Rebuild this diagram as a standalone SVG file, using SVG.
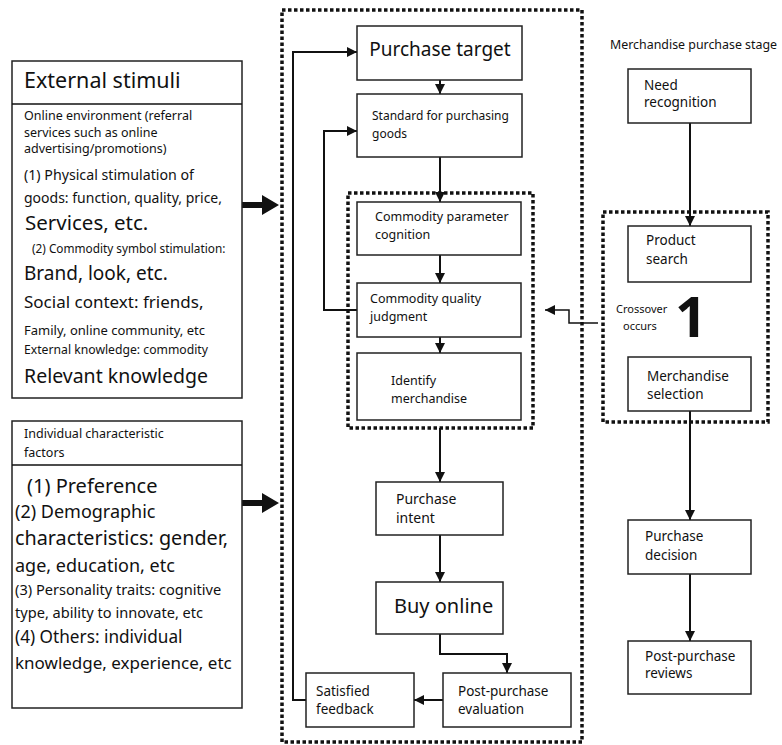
<svg xmlns="http://www.w3.org/2000/svg" width="782" height="745" viewBox="0 0 782 745">
<defs>
<marker id="ah" viewBox="0 0 10 10" refX="10" refY="5" markerWidth="10" markerHeight="10" markerUnits="userSpaceOnUse" orient="auto">
<path d="M0,0 L10,5 L0,10 z" fill="#111"/>
</marker>
</defs>
<style>
text{font-family:"Noto Sans","Open Sans","DejaVu Sans",sans-serif;fill:#111}
.box{fill:#fff;stroke:#222;stroke-width:1.5}
.dot{fill:none;stroke:#111;stroke-width:3.5;stroke-dasharray:3.5 2.5}
.ln{fill:none;stroke:#111;stroke-width:2}
.thin{fill:none;stroke:#111;stroke-width:1.5}
.s12{font-size:12.5px}
.s13{font-size:13.5px}
.s14{font-size:14px}
.big{font-size:20px}
</style>
<rect width="782" height="745" fill="#fff"/>

<!-- containers -->
<rect class="dot" x="282" y="10" width="300" height="732"/>
<rect class="dot" x="348" y="193" width="185" height="235"/>
<rect class="dot" x="603" y="212" width="165" height="210"/>

<g id="connectors">
<line class="ln" x1="440" y1="80" x2="440" y2="94" marker-end="url(#ah)"/>
<line class="ln" x1="440" y1="157" x2="440" y2="202" marker-end="url(#ah)"/>
<line class="ln" x1="440" y1="255" x2="440" y2="283" marker-end="url(#ah)"/>
<line class="ln" x1="440" y1="337" x2="440" y2="353" marker-end="url(#ah)"/>
<line class="ln" x1="440" y1="428" x2="440" y2="482" marker-end="url(#ah)"/>
<line class="ln" x1="440" y1="535" x2="440" y2="582" marker-end="url(#ah)"/>
<polyline class="ln" points="440,634 440,654 507,654 507,673" marker-end="url(#ah)"/>
<line class="ln" x1="443" y1="700" x2="414" y2="700" marker-end="url(#ah)"/>
<polyline class="ln" points="306,700 293,700 293,52 357,52" marker-end="url(#ah)"/>
<polyline class="ln" points="357,310 324,310 324,131 357,131" marker-end="url(#ah)"/>
<line class="ln" x1="690" y1="123" x2="690" y2="226" marker-end="url(#ah)"/>
<line class="ln" x1="690" y1="411" x2="690" y2="520" marker-end="url(#ah)"/>
<line class="ln" x1="690" y1="574" x2="690" y2="641" marker-end="url(#ah)"/>
<polyline class="thin" points="598,323 569,323 569,310 545,310" marker-end="url(#ah)"/>
<path d="M242,202 L262,202 L262,195 L279,205 L262,215 L262,208 L242,208 z" fill="#111"/>
<path d="M242,500 L262,500 L262,493 L279,503 L262,513 L262,506 L242,506 z" fill="#111"/>
</g>

<g id="external-stimuli">
<rect class="box" x="12" y="61" width="230" height="337"/>
<line class="thin" x1="12" y1="104" x2="242" y2="104"/>
<text x="24" y="88" style="font-size:21.5px">External stimuli</text>
<text x="24" y="120" class="s12">Online environment (referral</text>
<text x="24" y="137" class="s12">services such as online</text>
<text x="24" y="153" class="s12">advertising/promotions)</text>
<text x="24" y="180" style="font-size:14.2px">(1) Physical stimulation of</text>
<text x="24" y="203" style="font-size:14px">goods: function, quality, price,</text>
<text x="25" y="230" style="font-size:20.5px">Services, etc.</text>
<text x="32" y="253" style="font-size:11.8px">(2) Commodity symbol stimulation:</text>
<text x="24" y="280" style="font-size:19px">Brand, look, etc.</text>
<text x="24" y="308" style="font-size:17px">Social context: friends,</text>
<text x="24" y="335" style="font-size:13px">Family, online community, etc</text>
<text x="24" y="354" style="font-size:12.2px">External knowledge: commodity</text>
<text x="24" y="383" style="font-size:19.5px">Relevant knowledge</text>
</g>

<g id="individual-factors">
<rect class="box" x="12" y="421" width="230" height="287"/>
<line class="thin" x1="12" y1="465" x2="242" y2="465"/>
<text x="24" y="438" class="s12">Individual characteristic</text>
<text x="24" y="457" class="s12">factors</text>
<text x="27" y="493" style="font-size:20px">(1) Preference</text>
<text x="15" y="518" style="font-size:18px">(2) Demographic</text>
<text x="15" y="545" style="font-size:19.8px">characteristics: gender,</text>
<text x="15" y="572" style="font-size:18px">age, education, etc</text>
<text x="15" y="595" style="font-size:14.6px">(3) Personality traits: cognitive</text>
<text x="15" y="618" style="font-size:14.6px">type, ability to innovate, etc</text>
<text x="15" y="643" style="font-size:17.2px">(4) Others: individual</text>
<text x="15" y="669" style="font-size:17px">knowledge, experience, etc</text>
</g>

<g id="purchase-target">
<rect class="box" x="357" y="26" width="165" height="54"/>
<text x="440" y="56" style="font-size:19px" text-anchor="middle">Purchase target</text>
</g>
<g id="standard">
<rect class="box" x="357" y="94" width="165" height="63"/>
<text x="372" y="120" style="font-size:12px">Standard for purchasing</text>
<text x="372" y="138" style="font-size:12px">goods</text>
</g>
<g id="param-cognition">
<rect class="box" x="357" y="202" width="164" height="53"/>
<text x="375" y="221" class="s12">Commodity parameter</text>
<text x="375" y="239" class="s12">cognition</text>
</g>
<g id="quality-judgment">
<rect class="box" x="357" y="283" width="164" height="54"/>
<text x="370" y="303" class="s12">Commodity quality</text>
<text x="370" y="321" class="s12">judgment</text>
</g>
<g id="identify">
<rect class="box" x="357" y="353" width="164" height="67"/>
<text x="391" y="385" class="s12">Identify</text>
<text x="391" y="403" class="s12">merchandise</text>
</g>
<g id="purchase-intent">
<rect class="box" x="376" y="482" width="127" height="53"/>
<text x="396" y="504" class="s14">Purchase</text>
<text x="396" y="523" class="s14">intent</text>
</g>
<g id="buy-online">
<rect class="box" x="376" y="582" width="127" height="52"/>
<text x="394" y="613" class="big">Buy online</text>
</g>
<g id="post-eval">
<rect class="box" x="443" y="673" width="128" height="54"/>
<text x="458" y="696" class="s13">Post-purchase</text>
<text x="458" y="714" class="s13">evaluation</text>
</g>
<g id="satisfied">
<rect class="box" x="306" y="673" width="108" height="54"/>
<text x="316" y="696" class="s13">Satisfied</text>
<text x="316" y="714" class="s13">feedback</text>
</g>

<text x="610" y="49" style="font-size:12.4px">Merchandise purchase stage</text>
<g id="need">
<rect class="box" x="628" y="69" width="123" height="54"/>
<text x="644" y="90" class="s13">Need</text>
<text x="644" y="107" class="s13">recognition</text>
</g>
<g id="search">
<rect class="box" x="628" y="226" width="123" height="56"/>
<text x="646" y="245" class="s13">Product</text>
<text x="646" y="264" class="s13">search</text>
</g>
<g id="crossover">
<text x="616" y="313" style="font-size:11px">Crossover</text>
<text x="623" y="330" style="font-size:11px">occurs</text>
<text x="675" y="337" style="font-size:56px;font-weight:bold">1</text>
</g>
<g id="selection">
<rect class="box" x="628" y="357" width="123" height="54"/>
<text x="647" y="381" class="s13">Merchandise</text>
<text x="647" y="399" class="s13">selection</text>
</g>
<g id="decision">
<rect class="box" x="628" y="520" width="123" height="54"/>
<text x="645" y="541" class="s13">Purchase</text>
<text x="645" y="560" class="s13">decision</text>
</g>
<g id="reviews">
<rect class="box" x="628" y="641" width="123" height="53"/>
<text x="645" y="661" class="s13">Post-purchase</text>
<text x="645" y="678" class="s13">reviews</text>
</g>
</svg>
